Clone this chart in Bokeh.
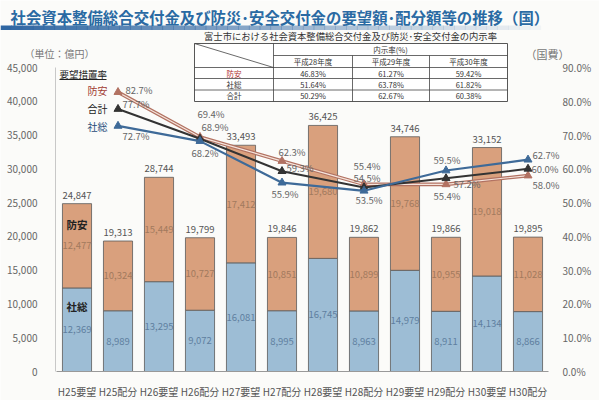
from bokeh.plotting import figure
from bokeh.models import (Range1d, LinearAxis, FixedTicker, NumeralTickFormatter,
                          PrintfTickFormatter, ColumnDataSource)
from bokeh.core.properties import value
from bokeh.embed import file_html
from bokeh.resources import INLINE

# ---------------- data ----------------
categories = ["H25要望", "H25配分", "H26要望", "H26配分", "H27要望", "H27配分",
              "H28要望", "H28配分", "H29要望", "H29配分", "H30要望", "H30配分"]
shaso = [12369, 8989, 13295, 9072, 16081, 8995, 16745, 8963, 14979, 8911, 14134, 8866]
boan = [12477, 10324, 15449, 10727, 17412, 10851, 19680, 10899, 19768, 10955, 19018, 11028]
totals = [24847, 19313, 28744, 19799, 33493, 19846, 36425, 19862, 34746, 19866, 33152, 19895]

rate_categories = ["H25配分", "H26配分", "H27配分", "H28配分", "H29配分", "H30配分"]
rate_boan = [82.7, 69.4, 62.3, 55.4, 55.4, 58.0]
rate_gokei = [77.7, 68.9, 59.3, 54.5, 57.2, 60.0]
rate_shaso = [72.7, 68.2, 55.9, 53.5, 59.5, 62.7]

left_ticks = [0, 5000, 10000, 15000, 20000, 25000, 30000, 35000, 40000, 45000]
right_ticks = [0, 10, 20, 30, 40, 50, 60, 70, 80, 90]

table_title = "富士市における社会資本整備総合交付金及び防災･安全交付金の内示率"
table_header = "内示率(%)"
table_years = ["平成28年度", "平成29年度", "平成30年度"]
table_rows = ["防安", "社総", "合計"]
table_values = [["46.83%", "61.27%", "59.42%"],
                ["51.64%", "63.78%", "61.82%"],
                ["50.29%", "62.67%", "60.38%"]]

title_text = "社会資本整備総合交付金及び防災･安全交付金の要望額･配分額等の推移（国）"

# ---------------- styles / layout ----------------
FONT = "Noto Sans CJK JP"
C_BOAN = "#d9a07d"
C_SHASO = "#9dbdd5"
BG = "#fbfbf9"
TBL = "#444444"
W, H = 599, 400

# The plotting frame fills the whole canvas (0..599 x 0..400 px);
# the bar area spans x 56..548 and y 67 (45,000) .. 371 (0).
FR_L, CAT_W, Y0, Y_TOP = 56, 41.0, 371, 67
PX_PER_VAL = (Y0 - Y_TOP) / 45000.0
PX_PER_PCT = (Y0 - Y_TOP) / 90.0

def px_x(rx):
    return (rx - FR_L) / CAT_W

def px_y(ry):
    return (Y0 - ry) / PX_PER_VAL

xpos = [i + 0.5 for i in range(len(categories))]

p = figure(width=W, height=H, title=None,
           x_range=Range1d(px_x(0), px_x(W)), y_range=Range1d(px_y(H), px_y(0)),
           output_backend="svg", toolbar_location=None,
           min_border=0, min_border_left=0, min_border_right=0, min_border_top=0,
           min_border_bottom=0, background_fill_color=BG, border_fill_color=BG,
           outline_line_color=None)
p.grid.visible = False
p.extra_y_ranges = {"pct": Range1d((Y0 - H) / PX_PER_PCT, Y0 / PX_PER_PCT)}

# left axis (drawn inside the canvas at the bar-area edge)
ya = p.yaxis[0]
ya.fixed_location = px_x(55)
ya.bounds = (0, 45000)
ya.ticker = FixedTicker(ticks=left_ticks)
ya.formatter = NumeralTickFormatter(format="0,0")
ya.major_tick_line_color = None
ya.minor_tick_line_color = None
ya.axis_line_color = "#c8c8c8"
ya.major_label_standoff = 12
ya.major_label_text_font = FONT
ya.major_label_text_font_size = "10px"
ya.major_label_text_color = "#666666"

# right axis
ra = LinearAxis(y_range_name="pct", ticker=FixedTicker(ticks=right_ticks),
                formatter=PrintfTickFormatter(format="%.1f%%"))
ra.fixed_location = px_x(548)
ra.bounds = (0, 90)
ra.major_tick_line_color = None
ra.minor_tick_line_color = None
ra.axis_line_color = None
ra.major_label_standoff = 8
ra.major_label_text_font = FONT
ra.major_label_text_font_size = "10px"
ra.major_label_text_color = "#666666"
p.add_layout(ra, "right")

# x axis (category labels)
xa = p.xaxis[0]
xa.fixed_location = 0
xa.ticker = FixedTicker(ticks=xpos)
xa.major_label_overrides = {x: c for x, c in zip(xpos, categories)}
xa.bounds = (0, len(categories))
xa.major_tick_line_color = None
xa.minor_tick_line_color = None
xa.axis_line_color = "#999999"
xa.major_label_standoff = 6
xa.major_label_text_font = FONT
xa.major_label_text_font_size = "10px"
xa.major_label_text_color = "#555555"

# ---------------- header: title, underline bar, unit labels ----------------
n = 50
p.quad(left=[px_x(i * 540 / n) for i in range(n)],
       right=[px_x((i + 1) * 540 / n + 0.6) for i in range(n)],
       top=[px_y(25)] * n, bottom=[px_y(29.5)] * n, fill_color="#2b63a0",
       fill_alpha=[0.95 * (1 - i / n) + 0.03 for i in range(n)], line_color=None)
p.text(x=[px_x(10)], y=[px_y(16.5)], text=[title_text], text_align="left",
       text_baseline="middle", text_font=value(FONT), text_font_size="15.4px",
       text_font_style="bold", text_color="#2a6aa3")
p.text(x=[px_x(24)], y=[px_y(53)], text=["（単位：億円）"], text_align="left",
       text_baseline="middle", text_font=value(FONT), text_font_size="10px",
       text_color="#777777")
p.text(x=[px_x(525)], y=[px_y(53)], text=["（国費）"], text_align="left",
       text_baseline="middle", text_font=value(FONT), text_font_size="11px",
       text_color="#777777")

# ---------------- table ----------------
tx = [194, 273, 352, 429, 507]
ty = [43, 55, 67, 78, 89.5, 101]
p.text(x=[px_x(350)], y=[px_y(35)], text=[table_title], text_align="center",
       text_baseline="middle", text_font=value(FONT), text_font_size="9.3px",
       text_color="#333333")
p.quad(left=[px_x(tx[0])], right=[px_x(tx[4])], top=[px_y(ty[0])], bottom=[px_y(ty[5])],
       fill_color="white", line_color=TBL, line_width=0.9)
sx0 = [tx[1], tx[0], tx[0], tx[0], tx[1], tx[2], tx[3], tx[0]]
sy0 = [ty[1], ty[2], ty[3], ty[4], ty[0], ty[1], ty[1], ty[0]]
sx1 = [tx[4], tx[4], tx[4], tx[4], tx[1], tx[2], tx[3], tx[1]]
sy1 = [ty[1], ty[2], ty[3], ty[4], ty[5], ty[5], ty[5], ty[2]]
p.segment(x0=[px_x(v) for v in sx0], y0=[px_y(v) for v in sy0],
          x1=[px_x(v) for v in sx1], y1=[px_y(v) for v in sy1],
          line_color=TBL, line_width=0.8)

def tcells(texts, cxs, cys, color="#333333"):
    p.text(x=[px_x(v) for v in cxs], y=[px_y(v) for v in cys], text=texts,
           text_align="center", text_baseline="middle", text_font=value(FONT),
           text_font_size="7.5px", text_color=color)

tcells([table_header], [(tx[1] + tx[4]) / 2], [(ty[0] + ty[1]) / 2])
tcells(table_years, [(tx[j + 1] + tx[j + 2]) / 2 for j in range(3)], [(ty[1] + ty[2]) / 2] * 3)
for i, rn in enumerate(table_rows):
    cy = (ty[i + 2] + ty[i + 3]) / 2
    tcells([rn], [(tx[0] + tx[1]) / 2], [cy], "#b03030" if i == 0 else "#333333")
    tcells(table_values[i], [(tx[j + 1] + tx[j + 2]) / 2 for j in range(3)], [cy] * 3)

# ---------------- bars ----------------
src = ColumnDataSource(dict(x=xpos, cat=categories, shaso=shaso, boan=boan, total=totals,
                            shaso_mid=[s / 2 for s in shaso],
                            boan_mid=[s + b / 2 for s, b in zip(shaso, boan)],
                            top=[s + b for s, b in zip(shaso, boan)],
                            shaso_lbl=[f"{v:,}" for v in shaso],
                            boan_lbl=[f"{v:,}" for v in boan],
                            total_lbl=[f"{v:,}" for v in totals]))
p.vbar_stack(["shaso", "boan"], x="x", width=0.71, source=src,
             color=[C_SHASO, C_BOAN], line_color="#5a5a5a", line_width=0.8)

p.text(x="x", y="shaso_mid", text="shaso_lbl", source=src, text_align="center",
       text_baseline="middle", text_font=value(FONT), text_font_size="9.5px", text_color="#5f7f9f")
p.text(x="x", y="boan_mid", text="boan_lbl", source=src, text_align="center",
       text_baseline="middle", text_font=value(FONT), text_font_size="9.5px", text_color="#a27a5e")
p.text(x="x", y="top", text="total_lbl", source=src, text_align="center",
       text_baseline="bottom", y_offset=-5, text_font=value(FONT), text_font_size="9.5px",
       text_color="#555555")

# series names inside first bar
p.text(x=[xpos[0]], y=[shaso[0] + boan[0] * 0.75], text=["防安"], text_align="center",
       text_baseline="middle", text_font=value(FONT), text_font_size="10.5px",
       text_font_style="bold", text_color="#222222")
p.text(x=[xpos[0]], y=[shaso[0] * 0.78], text=["社総"], text_align="center",
       text_baseline="middle", text_font=value(FONT), text_font_size="10.5px",
       text_font_style="bold", text_color="#222222")

# ---------------- lines ----------------
rx = [xpos[categories.index(c)] for c in rate_categories]
p.line(rx, rate_boan, y_range_name="pct", line_color="#b27262", line_width=3.6)
p.line(rx, rate_boan, y_range_name="pct", line_color="#f5e4dc", line_width=1.2)
p.scatter(rx, rate_boan, y_range_name="pct", marker="triangle", size=8,
          fill_color="#b27262", line_color="#b27262")
p.line(rx, rate_gokei, y_range_name="pct", line_color="#333333", line_width=2)
p.scatter(rx, rate_gokei, y_range_name="pct", marker="triangle", size=8,
          fill_color="#333333", line_color="#333333")
p.line(rx, rate_shaso, y_range_name="pct", line_color="#3e6a98", line_width=2.2)
p.scatter(rx, rate_shaso, y_range_name="pct", marker="triangle", size=8,
          fill_color="#3e6a98", line_color="#3e6a98")

# percent labels with per-point pixel offsets (centre of label relative to point, y down)
off_boan = [(21, -2), (11, -23), (10, -9), (3, -18), (1, 12), (18, 9)]
off_gokei = [(18, -5), (15, -12), (18, -3), (3, -9), (21, 6), (17, 0)]
off_shaso = [(18, 10), (5, 12), (3, 11), (5, 9), (1, -11), (18, -5)]
for vals, offs in ((rate_boan, off_boan), (rate_gokei, off_gokei), (rate_shaso, off_shaso)):
    p.text(x=rx, y=vals, text=[f"{v:.1f}%" for v in vals], y_range_name="pct",
           x_offset=[o[0] for o in offs], y_offset=[o[1] for o in offs],
           text_align="center", text_baseline="middle", text_font=value(FONT),
           text_font_size="9.5px", text_color="#666666")

# legend-like labels
p.text(x=[px_x(59)], y=[px_y(73)], text=["要望措置率"], text_align="left", text_baseline="middle",
       text_font=value(FONT), text_font_size="9.5px", text_color="#222222")
p.segment(x0=[px_x(59)], y0=[px_y(79)], x1=[px_x(106)], y1=[px_y(79)], line_color="#222222",
          line_width=1)
for name, ry, col in (("防安", 90, "#a03a30"), ("合計", 108, "#222222"), ("社総", 126, "#1f4a78")):
    p.text(x=[px_x(107)], y=[px_y(ry)], text=[name], text_align="right", text_baseline="middle",
           text_font=value(FONT), text_font_size="10px", text_color=col)

open("out.html", "w").write(file_html(p, INLINE))
